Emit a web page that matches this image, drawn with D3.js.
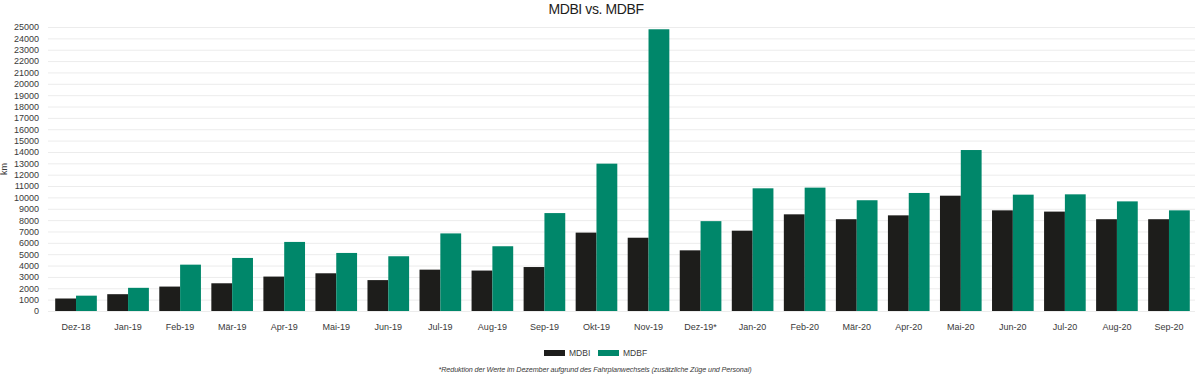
<!DOCTYPE html>
<meta charset="utf-8">
<style>
	body {
		margin: 0;
		padding: 0;
		background: #ffffff;
		font-family: 'Liberation Sans', Arial, sans-serif;
	}
	.axis text {
		fill: #3a3a3a;
		font-size: 9px;
	}
	.axis path,
	.axis line {
		display: none;
	}
	.grid line {
		stroke: #ececec;
		stroke-width: 1px;
	}
	.grid path {
		display: none;
	}
</style>
<body>
<svg class="chart"></svg>
<script src="https://d3js.org/d3.v7.min.js"></script>
<script>

var months = ["Dez-18", "Jan-19", "Feb-19", "Mär-19", "Apr-19", "Mai-19", "Jun-19", "Jul-19",
	"Aug-19", "Sep-19", "Okt-19", "Nov-19", "Dez-19*", "Jan-20", "Feb-20", "Mär-20",
	"Apr-20", "Mai-20", "Jun-20", "Jul-20", "Aug-20", "Sep-20"];

var mdbi = [1100, 1480, 2150, 2440, 3030, 3320, 2720, 3640, 3560, 3870, 6900, 6450,
	5340, 7070, 8510, 8080, 8420, 10150, 8860, 8750, 8080, 8080];

var mdbf = [1350, 2040, 4080, 4670, 6080, 5110, 4820, 6830, 5700, 8620, 12970, 24800,
	7910, 10800, 10860, 9750, 10390, 14170, 10240, 10270, 9650, 8860];

var series = ["MDBI", "MDBF"];
var colors = ["#1d1d1b", "#00876a"];

var yTicks = d3.range(0, 25001, 1000);

var footnote = "*Reduktion der Werte im Dezember aufgrund des Fahrplanwechsels (zusätzliche Züge und Personal)";

var width = 1200, height = 374;
var margin = {top: 27, right: 5, bottom: 63, left: 50};

var svg = d3.select(".chart")
	.attr("width", width)
	.attr("height", height);

var data = months.map(function (m, i) {
	return {month: m, values: [mdbi[i], mdbf[i]]};
});

var x = d3.scaleBand()
	.domain(months)
	.range([margin.left, width - margin.right])
	.paddingInner(0.2)
	.paddingOuter(0.1);

var x1 = d3.scaleBand()
	.domain(series)
	.range([0, x.bandwidth()]);

var y = d3.scaleLinear()
	.domain([0, 25000])
	.range([height - margin.bottom, margin.top]);

// grid
svg.append("g")
	.attr("class", "grid")
	.attr("transform", "translate(" + (margin.left - 2) + ",0)")
	.call(d3.axisLeft(y).tickValues(yTicks).tickSize(-(width - margin.left - margin.right + 2)).tickFormat(""));

// y axis
svg.append("g")
	.attr("class", "axis")
	.attr("transform", "translate(" + (margin.left - 5) + ",0)")
	.call(d3.axisLeft(y).tickValues(yTicks).tickSize(0).tickPadding(6).tickFormat(d3.format("d")));

svg.append("text")
	.attr("transform", "translate(7," + y(12500) + ") rotate(-90)")
	.attr("text-anchor", "middle")
	.attr("font-size", 9)
	.attr("fill", "#3a3a3a")
	.text("km");

// bars
var groups = svg.selectAll(".group")
	.data(data)
  .enter().append("g")
	.attr("class", "group")
	.attr("transform", function (d) { return "translate(" + x(d.month) + ",0)"; });

groups.selectAll("rect")
	.data(function (d) { return d.values.map(function (v, i) { return {key: series[i], value: v, i: i}; }); })
  .enter().append("rect")
	.attr("x", function (d) { return x1(d.key); })
	.attr("width", x1.bandwidth())
	.attr("y", function (d) { return y(d.value); })
	.attr("height", function (d) { return y(0) - y(d.value); })
	.attr("fill", function (d) { return colors[d.i]; });

// x axis
svg.append("g")
	.attr("class", "axis")
	.attr("transform", "translate(0," + (y(0) + 13) + ")")
	.call(d3.axisBottom(x).tickSize(0).tickPadding(0));

// title
svg.append("text")
	.attr("x", 596)
	.attr("y", 14)
	.attr("text-anchor", "middle")
	.attr("font-size", 14)
	.attr("fill", "#1d1d1b")
	.attr("letter-spacing", "-0.4px")
	.text("MDBI vs. MDBF");

// legend
var legend = svg.selectAll(".legend")
	.data(series)
  .enter().append("g")
	.attr("class", "legend")
	.attr("transform", function (d, i) { return "translate(" + (544 + i * 54) + ",350)"; });

legend.append("rect")
	.attr("width", 21)
	.attr("height", 6)
	.attr("fill", function (d, i) { return colors[i]; });

legend.append("text")
	.attr("x", 25)
	.attr("y", 6)
	.attr("font-size", 8.5)
	.attr("fill", "#3a3a3a")
	.text(function (d) { return d; });

// footnote
svg.append("text")
	.attr("x", 595)
	.attr("y", 372)
	.attr("text-anchor", "middle")
	.attr("font-size", 7.2)
	.attr("font-style", "italic")
	.attr("fill", "#3a3a3a")
	.attr("letter-spacing", "-0.1px")
	.text(footnote);

</script>
</body>
